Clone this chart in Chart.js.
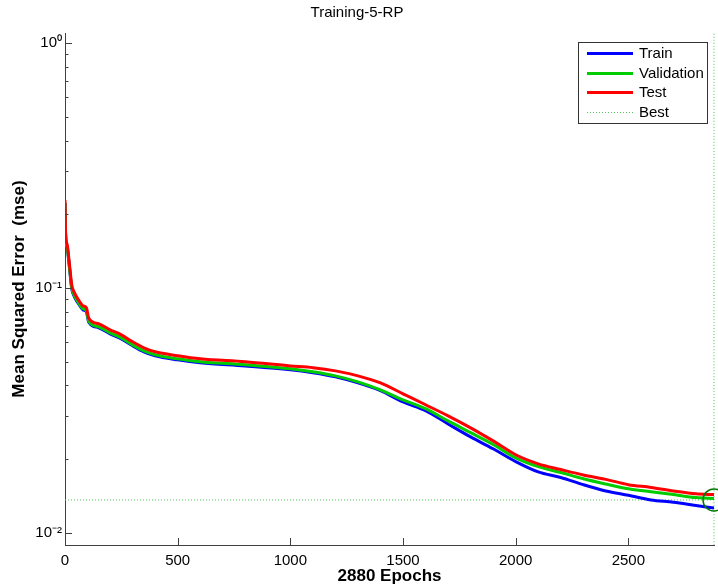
<!DOCTYPE html>
<html>
<head>
<meta charset="utf-8">
<title>Training-5-RP</title>
<script src="https://cdn.jsdelivr.net/npm/chart.js@4.4.0/dist/chart.umd.min.js"></script>
<style>
  html, body { margin: 0; padding: 0; background: #fff; }
  #wrap { width: 718px; height: 587px; }
</style>
</head>
<body>
<div id="wrap"><canvas id="perf" width="718" height="587"></canvas></div>
<script>
const epochs = [0, 3, 10, 20, 30, 40, 60, 80, 95, 105, 150, 200, 250, 300, 350, 400, 500, 600, 800,
  1000, 1100, 1200, 1300, 1400, 1500, 1600, 1700, 1800, 1900, 2000, 2100, 2200, 2300, 2400,
  2500, 2600, 2700, 2800, 2880];

const trainMse = [0.2223, 0.1615, 0.1456, 0.1207, 0.0991, 0.0927, 0.0861, 0.0813, 0.0798, 0.0726,
  0.0687, 0.0649, 0.0619, 0.0580, 0.0548, 0.0528, 0.0508, 0.0494, 0.0480, 0.0463, 0.0450, 0.0433,
  0.0409, 0.0380, 0.0342, 0.0315, 0.0278, 0.0246, 0.0220, 0.0195, 0.0177, 0.0168, 0.0157, 0.0148,
  0.0142, 0.0136, 0.0133, 0.0129, 0.0126];

const validationMse = [0.2223, 0.1615, 0.1456, 0.1207, 0.1000, 0.0936, 0.0869, 0.0821, 0.0806, 0.0733,
  0.0693, 0.0655, 0.0625, 0.0585, 0.0553, 0.0533, 0.0513, 0.0499, 0.0485, 0.0467, 0.0454, 0.0437,
  0.0413, 0.0383, 0.0349, 0.0321, 0.0286, 0.0256, 0.0229, 0.0202, 0.0186, 0.0176, 0.0166, 0.0158,
  0.0151, 0.0147, 0.0143, 0.0139, 0.0138];

const testMse = [0.2287, 0.1646, 0.1498, 0.1242, 0.1028, 0.0963, 0.0893, 0.0844, 0.0829, 0.0754,
  0.0713, 0.0674, 0.0643, 0.0602, 0.0569, 0.0548, 0.0528, 0.0513, 0.0499, 0.0480, 0.0472, 0.0458,
  0.0437, 0.0409, 0.0369, 0.0333, 0.0300, 0.0268, 0.0237, 0.0208, 0.0191, 0.0181, 0.0172, 0.0165,
  0.0157, 0.0153, 0.0148, 0.0144, 0.0143];

const bestEpoch = 2880;
const bestMse = 0.0136;

const xTicks = [0, 500, 1000, 1500, 2000, 2500];
const yTicks = [0.01, 0.02, 0.03, 0.04, 0.05, 0.06, 0.07, 0.08, 0.09,
  0.1, 0.2, 0.3, 0.4, 0.5, 0.6, 0.7, 0.8, 0.9, 1];
const yMajor = [0.01, 0.1, 1];
const yMajorLabels = ['10⁻²', '10⁻¹', '10⁰'];

const xMin = 0, xMax = 2880;
const yMin = 0.0089, yMax = 1.1;

const FONT = "'Liberation Sans', Arial, Helvetica, sans-serif";
const AXIS = '#404040';
const BEST = '#55c055';

function pts(ys) {
  return epochs.map((e, i) => ({ x: e, y: ys[i] }));
}

// MATLAB style ticks pointing into the plot
const insideTicks = {
  id: 'insideTicks',
  afterDatasetsDraw(chart) {
    const { ctx, chartArea, scales } = chart;
    ctx.save();
    ctx.strokeStyle = AXIS;
    ctx.lineWidth = 1;
    ctx.beginPath();
    scales.x.ticks.forEach(t => {
      const px = Math.round(scales.x.getPixelForValue(t.value)) + 0.5;
      ctx.moveTo(px, chartArea.bottom);
      ctx.lineTo(px, chartArea.bottom - 7);
    });
    scales.y.ticks.forEach(t => {
      const py = Math.round(scales.y.getPixelForValue(t.value)) + 0.5;
      const len = yMajor.includes(t.value) ? 7 : 3.5;
      ctx.moveTo(chartArea.left, py);
      ctx.lineTo(chartArea.left + len, py);
    });
    ctx.stroke();
    ctx.restore();
  }
};

// boxed legend in the upper right corner of the axes
const boxLegend = {
  id: 'boxLegend',
  afterDraw(chart) {
    const { ctx, chartArea } = chart;
    const left = chartArea.right - 136, top = chartArea.top + 9;
    const w = 129, h = 81;
    ctx.save();
    ctx.fillStyle = '#fff';
    ctx.fillRect(left, top, w, h);
    ctx.strokeStyle = '#333';
    ctx.lineWidth = 1;
    ctx.strokeRect(left + 0.5, top + 0.5, w, h);
    const items = chart.data.datasets.filter(d => d.inLegend);
    items.forEach((d, i) => {
      const y = Math.round(top + 11 + i * 19.5) + 0.5;
      ctx.beginPath();
      ctx.strokeStyle = d.borderColor;
      ctx.lineWidth = d.borderWidth;
      ctx.setLineDash(d.borderDash || []);
      ctx.moveTo(left + 9, y);
      ctx.lineTo(left + 55, y);
      ctx.stroke();
      ctx.setLineDash([]);
      ctx.fillStyle = '#000';
      ctx.font = '15px ' + FONT;
      ctx.textBaseline = 'middle';
      ctx.fillText(d.label, left + 61, y);
    });
    ctx.restore();
  }
};

new Chart(document.getElementById('perf'), {
  type: 'line',
  data: {
    datasets: [
      { label: 'Train', data: pts(trainMse), borderColor: '#0000ff', borderWidth: 3, order: 2, inLegend: true },
      { label: 'Validation', data: pts(validationMse), borderColor: '#00cc00', borderWidth: 3, order: 1, inLegend: true },
      { label: 'Test', data: pts(testMse), borderColor: '#ff0000', borderWidth: 3, order: 0, inLegend: true },
      { label: 'Best', data: [{ x: xMin, y: bestMse }, { x: xMax, y: bestMse }],
        borderColor: BEST, borderWidth: 1, borderDash: [1, 2], order: 3, inLegend: true },
      { label: 'bestEpoch', data: [{ x: bestEpoch, y: yMin }, { x: bestEpoch, y: yMax }],
        borderColor: BEST, borderWidth: 1, borderDash: [1, 2], order: 3, clip: false },
      { label: 'bestPoint', type: 'scatter', data: [{ x: bestEpoch, y: bestMse }],
        pointRadius: 11, pointBorderWidth: 1.5, pointBorderColor: '#007a00',
        pointBackgroundColor: 'rgba(0,0,0,0)', order: -1, clip: false }
    ]
  },
  options: {
    responsive: false,
    animation: false,
    devicePixelRatio: 1,
    layout: { autoPadding: false, padding: { left: 0, right: 4, top: 0, bottom: 0 } },
    elements: { point: { radius: 0 }, line: { tension: 0, cubicInterpolationMode: 'monotone' } },
    plugins: {
      legend: { display: false },
      tooltip: { enabled: false },
      title: {
        display: true,
        text: 'Training-5-RP',
        color: '#000',
        font: { family: FONT, size: 15, weight: 'normal' },
        padding: { top: 4, bottom: 11 }
      }
    },
    scales: {
      x: {
        type: 'linear',
        min: xMin,
        max: xMax,
        afterBuildTicks: s => { s.ticks = xTicks.map(v => ({ value: v })); },
        afterFit: s => { s.height = 42; s.paddingLeft = 0; s.paddingRight = 0; },
        grid: { display: false, drawTicks: false },
        border: { display: true, color: AXIS, width: 1 },
        ticks: { color: '#000', font: { family: FONT, size: 15 }, padding: 7, maxRotation: 0,
          callback: v => String(v) },
        title: {
          display: true,
          text: '2880 Epochs',
          color: '#000',
          font: { family: FONT, size: 17, weight: 'bold' },
          padding: { top: 0, bottom: 0 }
        }
      },
      y: {
        type: 'logarithmic',
        min: yMin,
        max: yMax,
        afterBuildTicks: s => { s.ticks = yTicks.map(v => ({ value: v })); },
        afterFit: s => { s.width = 65; },
        grid: { display: false, drawTicks: false },
        border: { display: true, color: AXIS, width: 1 },
        ticks: {
          color: '#000',
          font: { family: FONT, size: 15 },
          padding: 3,
          autoSkip: false,
          callback: v => {
            const i = yMajor.indexOf(v);
            return i >= 0 ? yMajorLabels[i] : '';
          }
        },
        title: {
          display: true,
          text: 'Mean Squared Error  (mse)',
          color: '#000',
          font: { family: FONT, size: 17, weight: 'bold' },
          padding: { top: 9, bottom: 0 }
        }
      }
    }
  },
  plugins: [insideTicks, boxLegend]
});
</script>
</body>
</html>
